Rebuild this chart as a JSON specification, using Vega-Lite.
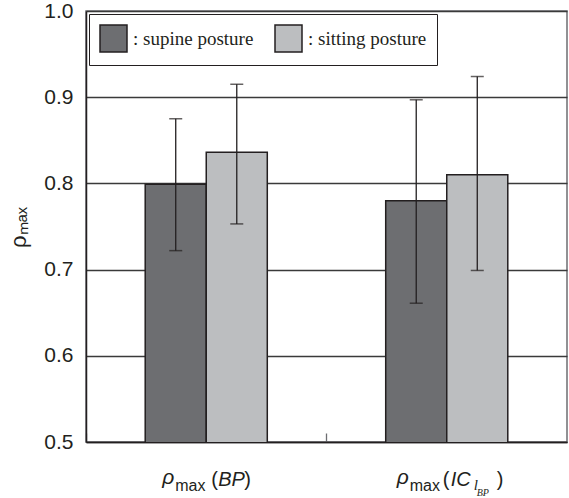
{
  "$schema": "https://vega.github.io/schema/vega-lite/v6.json",
  "width": 481,
  "height": 431,
  "autosize": {"type": "none"},
  "padding": {"left": 86, "top": 11, "right": 2, "bottom": 56},
  "background": "white",
  "config": {"view": {"stroke": "#6d6e71", "strokeWidth": 1.5}, "font": "Liberation Sans"},
  "datasets": {
    "bars": [
      {"measure": "BP", "posture": "supine posture", "mean": 0.799, "lo": 0.722, "hi": 0.875},
      {"measure": "BP", "posture": "sitting posture", "mean": 0.836, "lo": 0.753, "hi": 0.915},
      {"measure": "IC", "posture": "supine posture", "mean": 0.78, "lo": 0.661, "hi": 0.897},
      {"measure": "IC", "posture": "sitting posture", "mean": 0.81, "lo": 0.699, "hi": 0.924}
    ]
  },
  "layer": [
    {
      "data": {"name": "bars"},
      "mark": {"type": "bar", "stroke": "#231f20", "strokeWidth": 1.5, "clip": true},
      "encoding": {
        "x": {
          "field": "measure", "type": "nominal", "sort": ["BP", "IC"],
          "scale": {"paddingInner": 0, "paddingOuter": 0},
          "axis": {
            "title": null, "labels": false,
            "bandPosition": 0, "tickSize": -9, "tickColor": "#6d6e71", "tickWidth": 1.3,
            "domainColor": "#231f20", "domainWidth": 1.5, "grid": false
          }
        },
        "xOffset": {
          "field": "posture", "type": "nominal", "sort": ["supine posture", "sitting posture"],
          "scale": {"paddingOuter": 0.97, "paddingInner": 0}
        },
        "y": {
          "field": "mean", "type": "quantitative",
          "scale": {"domain": [0.5, 1.0], "nice": false, "zero": false},
          "axis": {
            "values": [0.5, 0.6, 0.7, 0.8, 0.9, 1.0], "format": ".1f",
            "title": "ρₘₐₓ", "titleFontSize": 22, "titleFontWeight": "normal", "titleColor": "#231f20",
            "titleX": -56, "titleY": 216,
            "labelFontSize": 21, "labelColor": "#231f20", "labelPadding": 13,
            "ticks": false, "domainColor": "#231f20", "domainWidth": 1.5,
            "grid": true, "gridColor": "#3a3a3a", "gridWidth": 1.3
          }
        },
        "color": {
          "field": "posture", "type": "nominal",
          "scale": {"domain": ["supine posture", "sitting posture"], "range": ["#6d6e71", "#bcbec0"]},
          "legend": {
            "title": null, "orient": "top-left", "direction": "horizontal", "offset": 3,
            "padding": 10, "strokeColor": "#231f20", "fillColor": "white",
            "symbolType": "square", "symbolSize": 729, "symbolStrokeColor": "#231f20",
            "symbolStrokeWidth": 1.5, "symbolOpacity": 1,
            "labelFont": "Liberation Serif", "labelFontSize": 19, "labelColor": "#231f20",
            "labelExpr": "': ' + datum.label", "columnPadding": 18, "labelOffset": 5, "labelLimit": 300
          }
        }
      }
    },
    {
      "data": {"name": "bars"},
      "mark": {"type": "rule", "color": "#231f20", "strokeWidth": 1.3},
      "encoding": {
        "x": {"field": "measure", "type": "nominal", "sort": ["BP", "IC"]},
        "xOffset": {"field": "posture", "type": "nominal", "sort": ["supine posture", "sitting posture"]},
        "y": {"field": "lo", "type": "quantitative"},
        "y2": {"field": "hi"}
      }
    },
    {
      "data": {"name": "bars"},
      "mark": {"type": "tick", "color": "#231f20", "size": 13, "thickness": 1.5, "orient": "horizontal"},
      "encoding": {
        "x": {"field": "measure", "type": "nominal", "sort": ["BP", "IC"]},
        "xOffset": {"field": "posture", "type": "nominal", "sort": ["supine posture", "sitting posture"]},
        "y": {"field": "hi", "type": "quantitative"}
      }
    },
    {
      "data": {"name": "bars"},
      "mark": {"type": "tick", "color": "#231f20", "size": 13, "thickness": 1.5, "orient": "horizontal"},
      "encoding": {
        "x": {"field": "measure", "type": "nominal", "sort": ["BP", "IC"]},
        "xOffset": {"field": "posture", "type": "nominal", "sort": ["supine posture", "sitting posture"]},
        "y": {"field": "lo", "type": "quantitative"}
      }
    },
    {
      "data": {"values": [{"measure": "BP", "t": "ρ"}]},
      "mark": {"type": "text", "fontStyle": "italic", "fontSize": 21, "color": "#231f20", "align": "left", "baseline": "alphabetic", "dx": -44, "dy": 42},
      "encoding": {"x": {"field": "measure", "type": "nominal", "sort": ["BP", "IC"]}, "y": {"datum": 0.5}, "text": {"field": "t"}}
    },
    {
      "data": {"values": [{"measure": "BP", "t": "max"}]},
      "mark": {"type": "text", "fontSize": 16, "color": "#231f20", "align": "left", "baseline": "alphabetic", "dx": -31, "dy": 49},
      "encoding": {"x": {"field": "measure", "type": "nominal", "sort": ["BP", "IC"]}, "y": {"datum": 0.5}, "text": {"field": "t"}}
    },
    {
      "data": {"values": [{"measure": "BP", "t": "("}]},
      "mark": {"type": "text", "fontSize": 20, "color": "#231f20", "align": "left", "baseline": "alphabetic", "dx": 5, "dy": 44},
      "encoding": {"x": {"field": "measure", "type": "nominal", "sort": ["BP", "IC"]}, "y": {"datum": 0.5}, "text": {"field": "t"}}
    },
    {
      "data": {"values": [{"measure": "BP", "t": "BP"}]},
      "mark": {"type": "text", "fontStyle": "italic", "fontSize": 20, "color": "#231f20", "align": "left", "baseline": "alphabetic", "dx": 12, "dy": 44},
      "encoding": {"x": {"field": "measure", "type": "nominal", "sort": ["BP", "IC"]}, "y": {"datum": 0.5}, "text": {"field": "t"}}
    },
    {
      "data": {"values": [{"measure": "BP", "t": ")"}]},
      "mark": {"type": "text", "fontSize": 20, "color": "#231f20", "align": "left", "baseline": "alphabetic", "dx": 38, "dy": 44},
      "encoding": {"x": {"field": "measure", "type": "nominal", "sort": ["BP", "IC"]}, "y": {"datum": 0.5}, "text": {"field": "t"}}
    },
    {
      "data": {"values": [{"measure": "IC", "t": "ρ"}]},
      "mark": {"type": "text", "fontStyle": "italic", "fontSize": 21, "color": "#231f20", "align": "left", "baseline": "alphabetic", "dx": -50, "dy": 42},
      "encoding": {"x": {"field": "measure", "type": "nominal", "sort": ["BP", "IC"]}, "y": {"datum": 0.5}, "text": {"field": "t"}}
    },
    {
      "data": {"values": [{"measure": "IC", "t": "max"}]},
      "mark": {"type": "text", "fontSize": 16, "color": "#231f20", "align": "left", "baseline": "alphabetic", "dx": -37, "dy": 49},
      "encoding": {"x": {"field": "measure", "type": "nominal", "sort": ["BP", "IC"]}, "y": {"datum": 0.5}, "text": {"field": "t"}}
    },
    {
      "data": {"values": [{"measure": "IC", "t": "("}]},
      "mark": {"type": "text", "fontSize": 20, "color": "#231f20", "align": "left", "baseline": "alphabetic", "dx": -4, "dy": 44},
      "encoding": {"x": {"field": "measure", "type": "nominal", "sort": ["BP", "IC"]}, "y": {"datum": 0.5}, "text": {"field": "t"}}
    },
    {
      "data": {"values": [{"measure": "IC", "t": "IC"}]},
      "mark": {"type": "text", "fontStyle": "italic", "fontSize": 20, "color": "#231f20", "align": "left", "baseline": "alphabetic", "dx": 4, "dy": 44},
      "encoding": {"x": {"field": "measure", "type": "nominal", "sort": ["BP", "IC"]}, "y": {"datum": 0.5}, "text": {"field": "t"}}
    },
    {
      "data": {"values": [{"measure": "IC", "t": "l"}]},
      "mark": {"type": "text", "font": "Liberation Serif", "fontStyle": "italic", "fontSize": 15, "color": "#231f20", "align": "left", "baseline": "alphabetic", "dx": 27, "dy": 48},
      "encoding": {"x": {"field": "measure", "type": "nominal", "sort": ["BP", "IC"]}, "y": {"datum": 0.5}, "text": {"field": "t"}}
    },
    {
      "data": {"values": [{"measure": "IC", "t": "BP"}]},
      "mark": {"type": "text", "font": "Liberation Serif", "fontStyle": "italic", "fontSize": 10, "color": "#231f20", "align": "left", "baseline": "alphabetic", "dx": 30, "dy": 54},
      "encoding": {"x": {"field": "measure", "type": "nominal", "sort": ["BP", "IC"]}, "y": {"datum": 0.5}, "text": {"field": "t"}}
    },
    {
      "data": {"values": [{"measure": "IC", "t": ")"}]},
      "mark": {"type": "text", "fontSize": 20, "color": "#231f20", "align": "left", "baseline": "alphabetic", "dx": 50, "dy": 44},
      "encoding": {"x": {"field": "measure", "type": "nominal", "sort": ["BP", "IC"]}, "y": {"datum": 0.5}, "text": {"field": "t"}}
    }
  ]
}
